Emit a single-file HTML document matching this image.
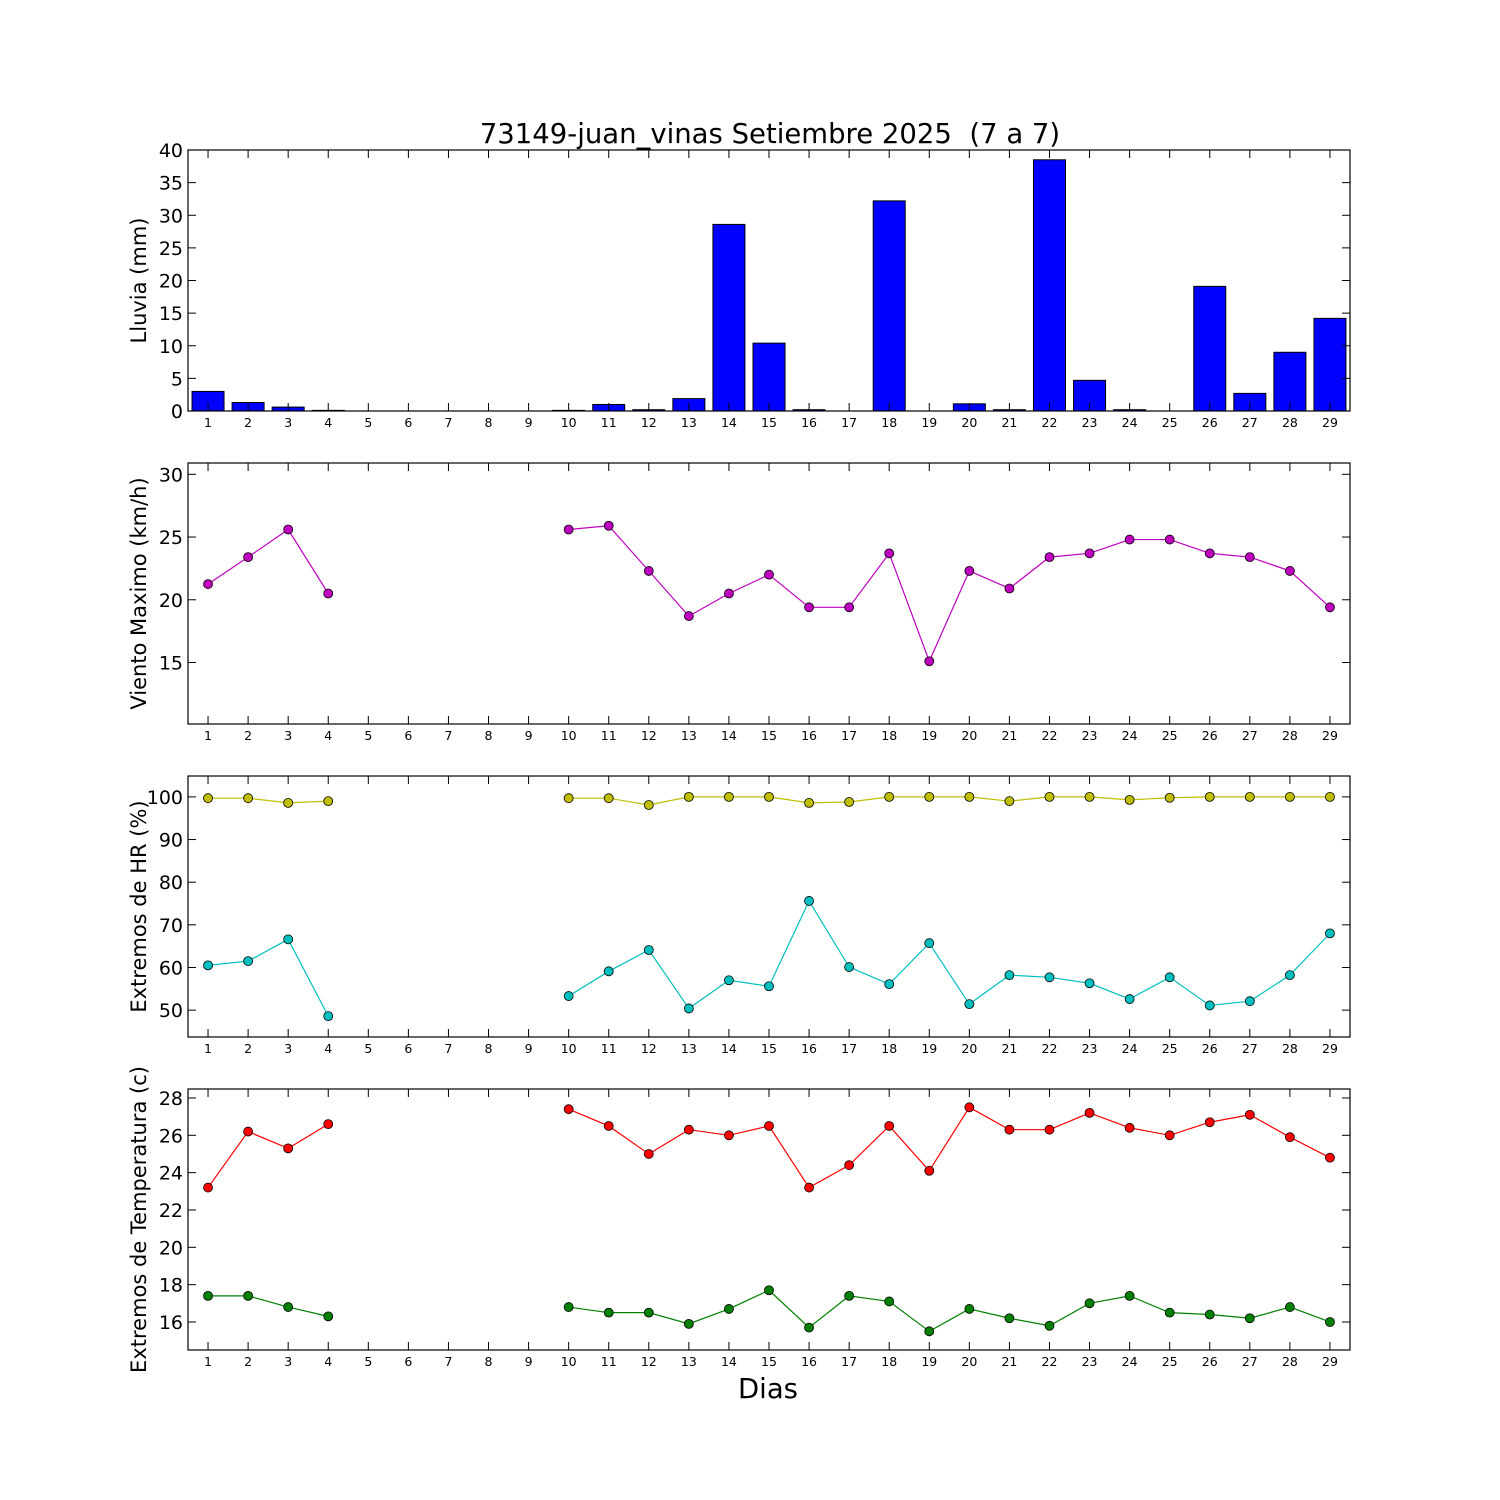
<!DOCTYPE html>
<html><head><meta charset="utf-8"><style>
html,body{margin:0;padding:0;background:#fff;}
svg{display:block;font-family:"DejaVu Sans","Liberation Sans",sans-serif;}
</style></head><body>
<svg id="chart" width="1500" height="1500" viewBox="0 0 1500 1500" xmlns="http://www.w3.org/2000/svg">
<rect width="1500" height="1500" fill="#fff"/>
<text x="770" y="143" font-size="27.5" text-anchor="middle" style="white-space:pre" xml:space="preserve">73149-juan_vinas Setiembre 2025  (7 a 7)</text>
<text x="768" y="1398" font-size="27.5" text-anchor="middle">Dias</text>
</svg>
<script>
const days = [1,2,3,4,5,6,7,8,9,10,11,12,13,14,15,16,17,18,19,20,21,22,23,24,25,26,27,28,29];
const rain = [3.0,1.3,0.6,0.1,0,0,0,0,0,0.1,1.0,0.2,1.9,28.6,10.4,0.2,0,32.2,0,1.1,0.2,38.5,4.7,0.2,0,19.1,2.7,9.0,14.2];
const wind = [21.25,23.4,25.6,20.5,null,null,null,null,null,25.6,25.9,22.3,18.7,20.5,22.0,19.4,19.4,23.7,15.1,22.3,20.9,23.4,23.7,24.8,24.8,23.7,23.4,22.3,19.4];
const hrMax = [99.7,99.7,98.6,99.0,null,null,null,null,null,99.7,99.7,98.1,100,100,100,98.6,98.8,100,100,100,99.0,100,100,99.3,99.8,100,100,100,100];
const hrMin = [60.5,61.5,66.6,48.6,null,null,null,null,null,53.3,59.1,64.1,50.4,57.0,55.6,75.6,60.1,56.1,65.7,51.4,58.2,57.7,56.3,52.6,57.7,51.1,52.1,58.2,68.0];
const tMax = [23.2,26.2,25.3,26.6,null,null,null,null,null,27.4,26.5,25.0,26.3,26.0,26.5,23.2,24.4,26.5,24.1,27.5,26.3,26.3,27.2,26.4,26.0,26.7,27.1,25.9,24.8];
const tMin = [17.4,17.4,16.8,16.3,null,null,null,null,null,16.8,16.5,16.5,15.9,16.7,17.7,15.7,17.4,17.1,15.5,16.7,16.2,15.8,17.0,17.4,16.5,16.4,16.2,16.8,16.0];
const rainTicks = [0,5,10,15,20,25,30,35,40];
const windTicks = [15,20,25,30];
const hrTicks = [50,60,70,80,90,100];
const tempTicks = [16,18,20,22,24,26,28];

const NS="http://www.w3.org/2000/svg";
const svg=document.getElementById('chart');
function mk(tag,attrs,parent){const e=document.createElementNS(NS,tag);for(const k in attrs)e.setAttribute(k,attrs[k]);(parent||svg).appendChild(e);return e;}
const L=188,R=1350;
function xs(d){return L+(d-0.5)*(R-L)/29;}

function panel(name,top,bot,ymin,ymax,ticks,label){
  const g=mk('g',{});
  
  
  const ys=v=>bot-(v-ymin)*(bot-top)/(ymax-ymin);
  return {g,ys,top,bot,ticks,label};
}
function frame(p){
  const {g,ys,top,bot,ticks,label}=p;
  mk('rect',{x:L,y:top,width:R-L,height:bot-top,fill:'none',stroke:'#000','stroke-width':1.2},g);
  ticks.forEach(t=>{
    const y=ys(t);
    mk('line',{x1:L,x2:L+8,y1:y,y2:y,stroke:'#000'},g);
    mk('line',{x1:R,x2:R-8,y1:y,y2:y,stroke:'#000'},g);
    const tx=mk('text',{x:L-5,y:y+7,'font-size':19,'text-anchor':'end'},g);
    
    
    tx.textContent=t;
  });
  days.forEach(d=>{
    const x=xs(d);
    mk('line',{x1:x,x2:x,y1:bot,y2:bot-8,stroke:'#000'},g);
    mk('line',{x1:x,x2:x,y1:top,y2:top+8,stroke:'#000'},g);
    const tx=mk('text',{x:x,y:bot+16,'font-size':12.5,'text-anchor':'middle'},g);
    
    
    tx.textContent=d;
  });
  const cy=(top+bot)/2;
  const yl=mk('text',{x:0,y:0,'font-size':21,'text-anchor':'middle',transform:`translate(146,${cy}) rotate(-90)`},g);
  
  
  yl.textContent=label;
}
function series(p,vals,color,name){
  const {g,ys}=p;
  let seg=[];const segs=[];
  vals.forEach((v,i)=>{if(v==null){if(seg.length)segs.push(seg);seg=[];}else seg.push([xs(days[i]),ys(v)]);});
  if(seg.length)segs.push(seg);
  segs.forEach(s=>{
    const pl=mk('polyline',{points:s.map(q=>q.join(',')).join(' '),fill:'none',stroke:color,'stroke-width':1.2},g);
    
    
  });
  vals.forEach((v,i)=>{
    if(v==null)return;
    const c=mk('circle',{cx:xs(days[i]),cy:ys(v),r:4.5,fill:color,stroke:'#000','stroke-width':0.8},g);
    
    
  });
}

const p1=panel('rain-panel',150,411,0,40,rainTicks,'Lluvia (mm)');
rain.forEach((v,i)=>{
  const x=xs(days[i])-16,y=p1.ys(v);
  const b=mk('rect',{x:x,y:y,width:32,height:p1.bot-y,fill:'#0000ff',stroke:'#000','stroke-width':1},p1.g);
  
  
});
frame(p1);

const p2=panel('wind-panel',463,724,10.1,30.9,windTicks,'Viento Maximo (km/h)');
series(p2,wind,'#bf00bf','wind');
frame(p2);

const p3=panel('humidity-panel',776,1037,43.7,104.9,hrTicks,'Extremos de HR (%)');
series(p3,hrMax,'#bfbf00','hr-max');
series(p3,hrMin,'#00bfbf','hr-min');
frame(p3);

const p4=panel('temperature-panel',1089,1350,14.5,28.48,tempTicks,'Extremos de Temperatura (c)');
series(p4,tMax,'#ff0000','temp-max');
series(p4,tMin,'#008000','temp-min');
frame(p4);
</script>
</body></html>
